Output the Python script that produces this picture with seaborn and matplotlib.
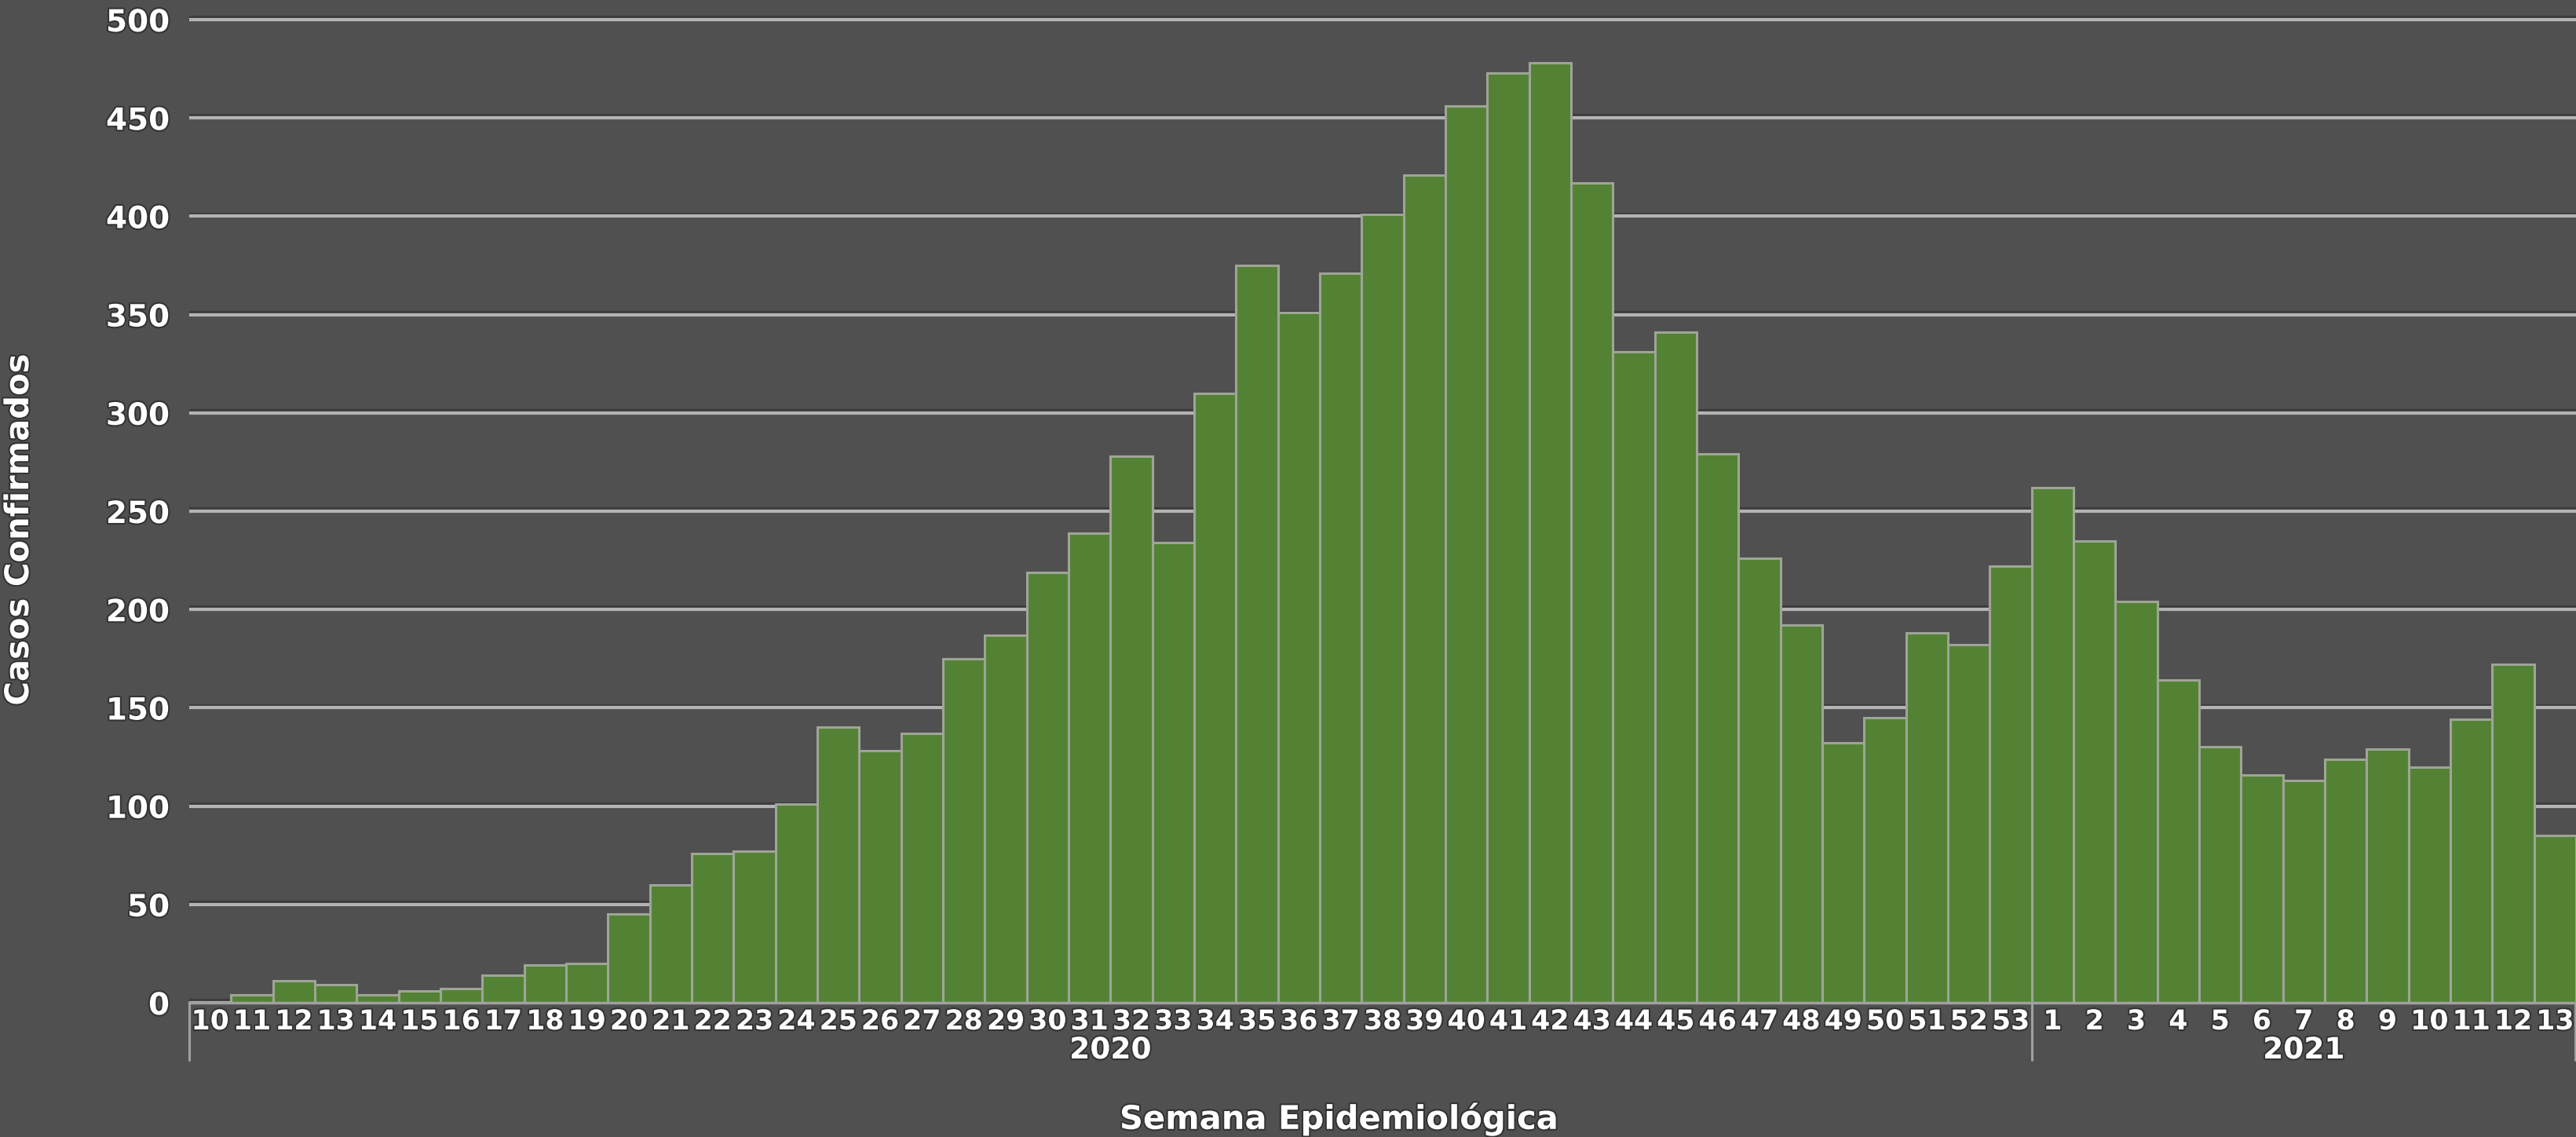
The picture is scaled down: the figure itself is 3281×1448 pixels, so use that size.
# Casos confirmados por semana epidemiologica
# ------------- Librerias a utilizar -------------
import pandas as pd
import seaborn as sns
import matplotlib.pyplot as plt
import matplotlib.patheffects as pe
import matplotlib.transforms as mtransforms
from matplotlib.lines import Line2D

# ------------- Datos -------------
anios = ["2020", "2021"]
semanas_2020 = list(range(10, 54))
casos_2020 = [0, 4, 11, 9, 4, 6, 7, 14, 19, 20,
              45, 60, 76, 77, 101, 140, 128, 137, 175, 187,
              219, 239, 278, 234, 310, 375, 351, 371, 401, 421,
              456, 473, 478, 417, 331, 341, 279, 226, 192, 132,
              145, 188, 182, 222]
semanas_2021 = list(range(1, 14))
casos_2021 = [262, 235, 204, 164, 130, 116, 113, 124, 129, 120, 144, 172, 85]

df = pd.DataFrame({
    "anio": [anios[0]] * len(semanas_2020) + [anios[1]] * len(semanas_2021),
    "semana": semanas_2020 + semanas_2021,
    "casos": casos_2020 + casos_2021,
})
df["clave"] = df["anio"] + "-" + df["semana"].astype(str)

# ------------- Estilo -------------
fondo = "#505050"
verde = "#538234"
borde = "#9ea596"
gris_linea = "#a0a0a0"

sns.set_style("dark", rc={"axes.facecolor": fondo, "figure.facecolor": fondo})
plt.rcParams["font.family"] = ["DejaVu Sans"]
sombra = [pe.withStroke(linewidth=3, foreground="#333333")]

fig = plt.figure(figsize=(32.81, 14.48), dpi=100)
ax = fig.add_axes([241 / 3281, 1 - 1277 / 1448, 1 - 241 / 3281, 1277 / 1448])

# Grafico de barras
sns.barplot(data=df, x="clave", y="casos", order=df["clave"], color=verde,
            saturation=1, width=1.0, edgecolor=borde, linewidth=2.2,
            errorbar=None, ax=ax, zorder=2)

ax.set_xlim(-0.5, len(df) - 0.5)
ax.set_ylim(0, 510)
ax.set_yticks(range(0, 501, 50))
ax.set_xticks(range(len(df)))
ax.set_xticklabels(df["semana"])
ax.set_xlabel("")
ax.set_ylabel("")

ax.tick_params(axis="both", length=0, colors="white")
ax.tick_params(axis="y", pad=18, labelsize=28)
ax.tick_params(axis="x", pad=5, labelsize=25)
for lbl in ax.get_xticklabels() + ax.get_yticklabels():
    lbl.set_fontweight("bold")
    lbl.set_path_effects(sombra)

# Lineas de la grilla con sombra
ax.yaxis.grid(True, color="#b4b4b4", linewidth=3.0)
ax.xaxis.grid(False)
ax.set_axisbelow(True)
for gl in ax.get_ygridlines():
    gl.set_path_effects([pe.SimpleLineShadow(offset=(0, 2.0), shadow_color="#3c3c3c", alpha=1),
                         pe.Normal()])

for lado in ["top", "left", "right"]:
    ax.spines[lado].set_visible(False)
ax.spines["bottom"].set_color(gris_linea)
ax.spines["bottom"].set_linewidth(2.5)
ax.spines["bottom"].set_zorder(3)

# Separadores de anio y etiquetas
mezcla = mtransforms.blended_transform_factory(ax.transData, fig.transFigure)
n_2020 = len(semanas_2020)
for xs in [-0.5, n_2020 - 0.5, len(df) - 0.52]:
    ax.add_line(Line2D([xs, xs], [1 - 1277 / 1448, 1 - 1350 / 1448], transform=mezcla,
                       color=gris_linea, linewidth=2.2, clip_on=False))
ax.text((n_2020 - 1) / 2, 1 - 1338 / 1448, anios[0], transform=mezcla, ha="center", va="center",
        color="white", fontsize=27, fontweight="bold", path_effects=sombra)
ax.text((n_2020 + len(df) - 1) / 2, 1 - 1338 / 1448, anios[1], transform=mezcla, ha="center",
        va="center", color="white", fontsize=27, fontweight="bold", path_effects=sombra)

# Titulos de los ejes
fig.text(1705 / 3281, 1 - 1425 / 1448, "Semana Epidemiológica", ha="center", va="center",
         color="white", fontsize=30, fontweight="bold", path_effects=sombra)
fig.text(24 / 3281, 1 - 675 / 1448, "Casos Confirmados", ha="center", va="center", rotation=90,
         color="white", fontsize=30, fontweight="bold", path_effects=sombra)

fig.savefig("out.png", dpi=100, facecolor=fondo)
